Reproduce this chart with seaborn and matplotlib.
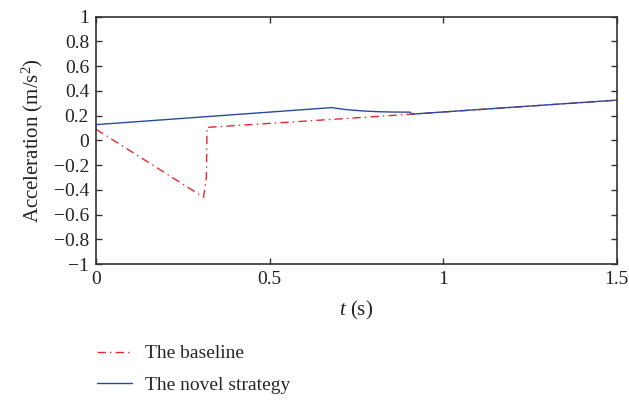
import numpy as np
import pandas as pd
import seaborn as sns
import matplotlib.pyplot as plt

# values
t_base = [0.0, 0.31, 0.318, 0.32, 0.6, 0.9, 1.2, 1.5]
a_base = [0.09, -0.46, -0.3, 0.105, 0.155, 0.21, 0.267, 0.325]

t_novel = [0.0, 0.68, 0.70, 0.72, 0.75, 0.78, 0.81, 0.85, 0.90, 0.905, 0.91, 1.2, 1.5]
a_novel = [0.127, 0.265, 0.256, 0.249, 0.242, 0.236, 0.232, 0.229, 0.228, 0.228, 0.212, 0.268, 0.325]

sns.set_style('ticks')
plt.rcParams['font.family'] = ['Liberation Serif', 'DejaVu Serif']
plt.rcParams['mathtext.fontset'] = 'custom'
plt.rcParams['mathtext.it'] = 'Liberation Serif:italic'
plt.rcParams['mathtext.rm'] = 'Liberation Serif'

base = pd.DataFrame({'t': t_base, 'a': a_base})
novel = pd.DataFrame({'t': t_novel, 'a': a_novel})

fig = plt.figure(figsize=(6.29, 4.01), dpi=100)
ax = fig.add_axes([0.1526, 0.3416, 0.8278, 0.6168])

sns.lineplot(x='t', y='a', data=base, ax=ax, color='#e8262d', lw=1.0,
             linestyle=(0, (6, 3, 1, 3)), label='The baseline', sort=False)
sns.lineplot(x='t', y='a', data=novel, ax=ax, color='#2a4a9c', lw=1.0,
             label='The novel strategy', sort=False)

ax.set_xlim(0, 1.5)
ax.set_ylim(-1, 1)
ax.set_xticks([0, 0.5, 1, 1.5])
ax.set_xticklabels(['0', '0.5', '1', '1.5'])
yt = np.round(np.arange(-1, 1.01, 0.2), 1)
ax.set_yticks(yt)
ylabs = []
for v in yt:
    if v == 0:
        ylabs.append('0')
    elif abs(v) == 1:
        ylabs.append('1' if v > 0 else '\u22121')
    else:
        ylabs.append(('\u2212' if v < 0 else '') + str(abs(v)))
ax.set_yticklabels(ylabs)
ax.tick_params(direction='in', top=True, right=True, labelsize=14, length=4, width=1,
               colors='#333333', labelcolor='#222222', pad=5)
for s in ax.spines.values():
    s.set_linewidth(1.2)
    s.set_color('#333333')

ax.set_xlabel('$t$ (s)', fontsize=15, color='#222222', labelpad=8)
ax.set_ylabel('Acceleration (m/s$^2$)', fontsize=15, color='#222222', labelpad=6)

h, l = ax.get_legend_handles_labels()
ax.get_legend().remove()
fig.legend(h, l, loc='upper left', bbox_to_anchor=(0.1537, 0.14), frameon=False,
           borderpad=0, borderaxespad=0,
           fontsize=14, handlelength=1.8, handletextpad=0.7, labelspacing=0.7)

plt.savefig('out.png', dpi=100)
